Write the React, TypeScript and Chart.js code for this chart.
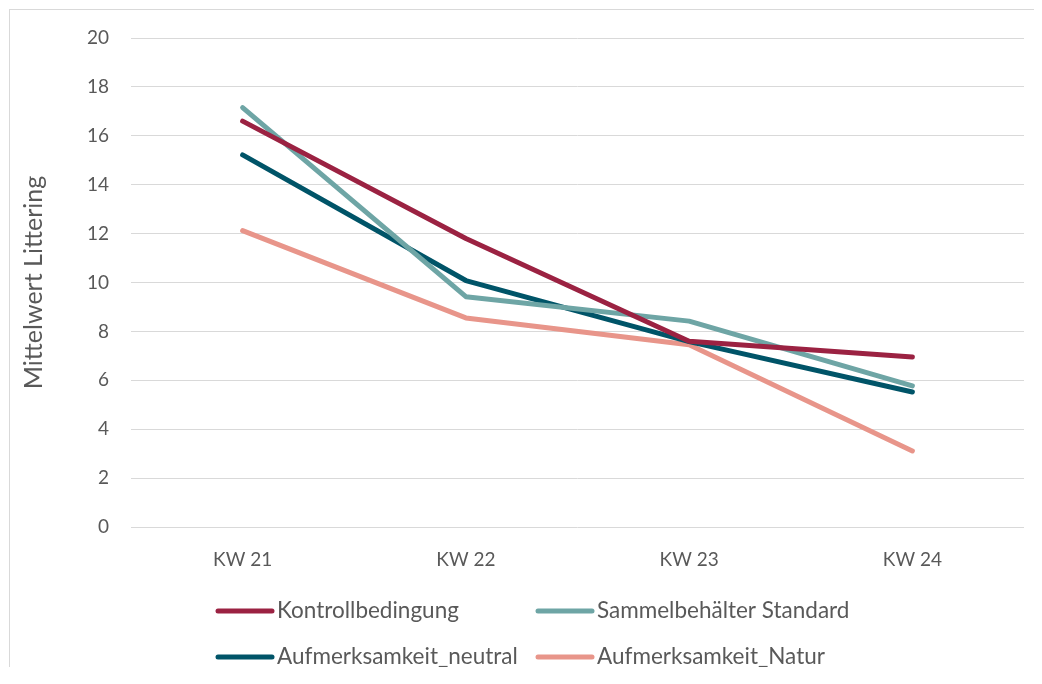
import React, { useEffect, useRef } from "react";
import { Chart, registerables } from "chart.js";

Chart.register(...registerables);

const categories = ["KW 21", "KW 22", "KW 23", "KW 24"];
const seriesNames = [
  "Kontrollbedingung",
  "Sammelbehälter Standard",
  "Aufmerksamkeit_neutral",
  "Aufmerksamkeit_Natur",
];
const kontrollbedingung = [16.6, 11.8, 7.6, 6.95];
const sammelbehaelterStandard = [17.15, 9.42, 8.42, 5.77];
const aufmerksamkeitNeutral = [15.22, 10.08, 7.58, 5.52];
const aufmerksamkeitNatur = [12.12, 8.55, 7.45, 3.11];
const seriesColors = ["#9B2242", "#6EA5A5", "#005468", "#E8958A"];
const yTicks = [0, 20, 2];
const yTitle = "Mittelwert Littering";

const FONT = "Lato, 'Open Sans', sans-serif";
const TEXT = "#595959";

const gridLegend = {
  id: "gridLegend",
  afterDraw(chart: any, _args: any, opts: any) {
    const ctx = chart.ctx;
    ctx.save();
    ctx.font = `${opts.fontSize}px ${FONT}`;
    ctx.textBaseline = "middle";
    ctx.textAlign = "left";
    chart.data.datasets.forEach((ds: any, i: number) => {
      const col = i % 2;
      const row = Math.floor(i / 2);
      const x = opts.cols[col];
      const y = opts.rows[row];
      ctx.strokeStyle = ds.borderColor;
      ctx.lineWidth = 5;
      ctx.lineCap = "round";
      ctx.beginPath();
      ctx.moveTo(x, y);
      ctx.lineTo(x + opts.lineLen, y);
      ctx.stroke();
      ctx.fillStyle = TEXT;
      ctx.fillText(ds.label, x + opts.lineLen + 5, y);
    });
    ctx.restore();
  },
};

export default function App() {
  const ref = useRef<HTMLCanvasElement>(null);
  useEffect(() => {
    const values = [
      kontrollbedingung,
      sammelbehaelterStandard,
      aufmerksamkeitNeutral,
      aufmerksamkeitNatur,
    ];
    const chart = new Chart(ref.current!, {
      type: "line",
      data: {
        labels: categories,
        datasets: seriesNames.map((name, i) => ({
          label: name,
          data: values[i],
          borderColor: seriesColors[i],
          backgroundColor: seriesColors[i],
          borderWidth: 5,
          borderCapStyle: "round",
          borderJoinStyle: "round",
          pointRadius: 0,
          tension: 0,
          fill: false,
        })),
      },
      options: {
        animation: false,
        responsive: false,
        maintainAspectRatio: false,
        layout: { padding: { top: 28, right: 10, left: 0, bottom: 0 } },
        plugins: {
          legend: { display: false },
          tooltip: { enabled: false },
          gridLegend: { cols: [208, 528], rows: [601, 647], lineLen: 54, fontSize: 22.5 },
        } as any,
        scales: {
          x: {
            offset: true,
            grid: { display: false },
            border: { display: false },
            ticks: { color: TEXT, font: { family: FONT, size: 19 }, padding: 13 },
            afterFit: (s: any) => {
              s.height = 140;
            },
          },
          y: {
            min: yTicks[0],
            max: yTicks[1],
            ticks: {
              stepSize: yTicks[2],
              color: TEXT,
              font: { family: FONT, size: 19 },
              padding: 22,
            },
            grid: { color: "#d9d9d9", lineWidth: 1, drawTicks: false },
            border: { display: false },
            title: {
              display: true,
              text: yTitle,
              color: TEXT,
              font: { family: FONT, size: 25 },
              padding: { top: 9, bottom: 0 },
            },
            afterFit: (s: any) => {
              s.width = 121;
              s.paddingTop = 0;
              s.paddingBottom = 0;
            },
          },
        },
      },
      plugins: [gridLegend],
    });
    return () => chart.destroy();
  }, []);
  return (
    <div
      style={{
        marginTop: 1,
        marginLeft: 1,
        width: 1025,
        height: 657,
        borderTop: "1px solid #d9d9d9",
        borderLeft: "1px solid #d9d9d9",
        background: "#fff",
      }}
    >
      <canvas ref={ref} width={1024} height={657} style={{ display: "block" }} />
    </div>
  );
}
